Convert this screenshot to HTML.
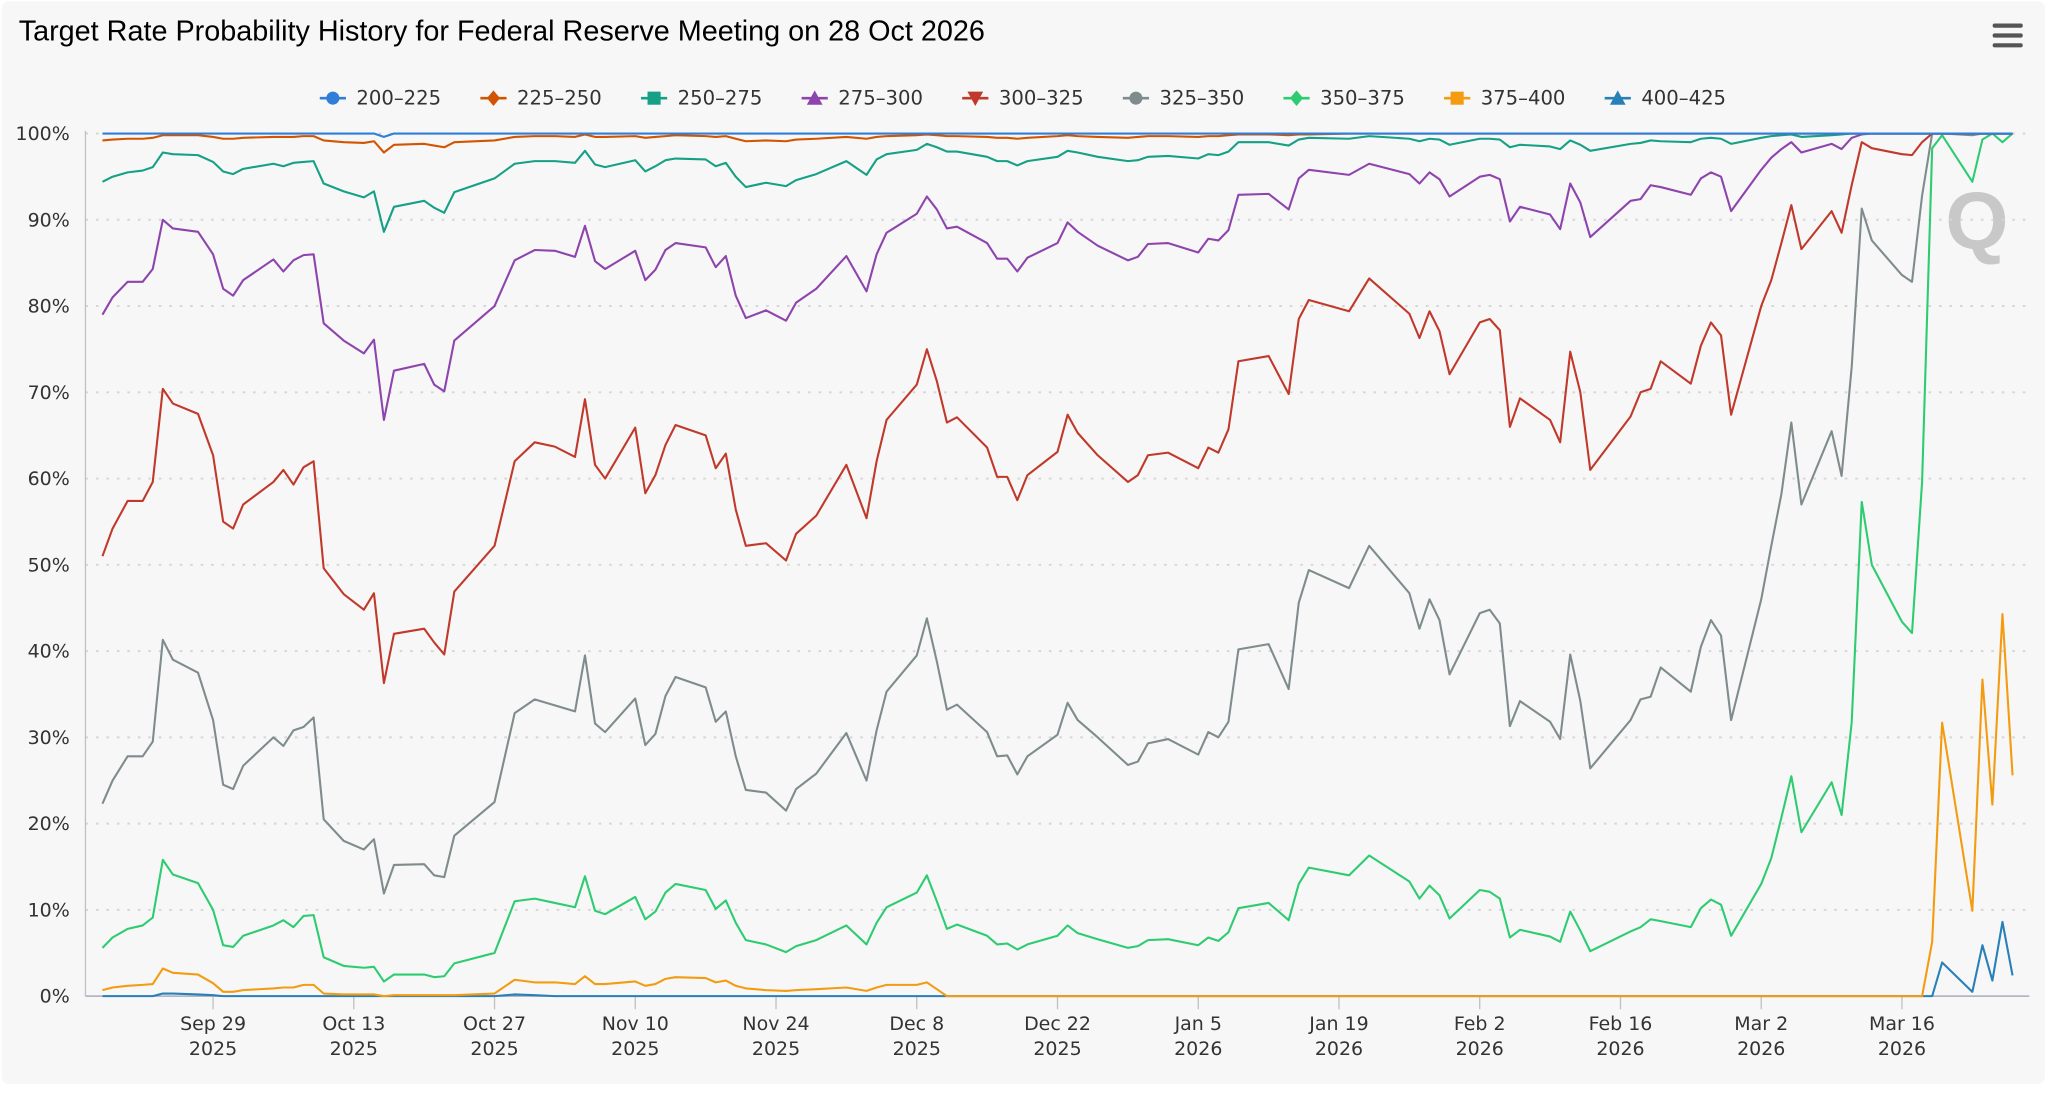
<!DOCTYPE html>
<html><head><meta charset="utf-8"><style>
html,body{margin:0;padding:0;background:#fff;width:2048px;height:1093px;overflow:hidden}
svg{display:block}
text{font-family:"DejaVu Sans","Liberation Sans",sans-serif}
</style></head><body>
<svg id="chart" width="2048" height="1093" viewBox="0 0 1564 835" xmlns="http://www.w3.org/2000/svg">
<rect x="1" y="1" width="1561" height="827" rx="5" fill="#f7f7f7"/>
<text x="14" y="31" font-size="22" fill="#000" style="font-family:'Liberation Sans',sans-serif">Target Rate Probability History for Federal Reserve Meeting on 28 Oct 2026</text>
<g fill="#555">
<rect x="1522" y="18" width="23" height="3.2" rx="1.5"/><rect x="1522" y="25.5" width="23" height="3.2" rx="1.5"/><rect x="1522" y="33" width="23" height="3.2" rx="1.5"/>
</g>
<text x="1510" y="190" font-size="62" font-weight="bold" fill="#c8c8c8" text-anchor="middle" style="font-family:'Liberation Sans',sans-serif">Q</text>
<g id="grid"></g><g id="axes"></g><g id="series"></g><g id="legend"></g>
</svg>
<script>
const NS="http://www.w3.org/2000/svg";
const seriesNames=["200-225","225-250","250-275","275-300","300-325","325-350","350-375","375-400","400-425"];
const seriesColors=["#2f7ed8","#d35400","#16a085","#8e44ad","#c0392b","#7f8c8d","#2ecc71","#f39c12","#2980b9"];
const yTicks=[0,10,20,30,40,50,60,70,80,90,100];
const xTickDays=[11,25,39,53,67,81,95,109,123,137,151,165,179];
const xTickLabels=["Sep 29","Oct 13","Oct 27","Nov 10","Nov 24","Dec 8","Dec 22","Jan 5","Jan 19","Feb 2","Feb 16","Mar 2","Mar 16"];
const xTickYears=["2025","2025","2025","2025","2025","2025","2025","2026","2026","2026","2026","2026","2026"];
// days since 2025-09-18
const days=[0,1,2.5,4,5,6,7,9.5,11,12,13,14,17,18,19,20,21,22,24,26,27,28,29,32,33,34,35,39,41,43,45,47,48,49,50,53,54,55,56,57,60,61,62,63,64,66,68,69,71,74,76,77,78,81,82,83,84,85,88,89,90,91,92,95,96,97,99,102,103,104,106,109,110,111,112,113,116,118,119,120,124,126,130,131,132,133,134,137,138,139,140,141,144,145,146,147,148,152,153,154,155,158,159,160,161,162,165,166,167,168,169,172,173,174,175,176,179,180,181,182,183,186,187,188,189,190];
const s200=[100,100,100,100,100,100,100,100,100,100,100,100,100,100,100,100,100,100,100,100,100,99.6,100,100,100,100,100,100,100,100,100,100,100,100,100,100,100,100,100,100,100,100,100,100,100,100,100,100,100,100,100,100,100,100,100,100,100,100,100,100,100,100,100,100,100,100,100,100,100,100,100,100,100,100,100,100,100,100,100,100,100,100,100,100,100,100,100,100,100,100,100,100,100,100,100,100,100,100,100,100,100,100,100,100,100,100,100,100,100,100,100,100,100,100,100,100,100,100,100,100,100,100,100,100,100,100];
const s225=[99.2,99.3,99.4,99.4,99.5,99.8,99.8,99.8,99.6,99.4,99.4,99.5,99.6,99.6,99.6,99.7,99.7,99.2,99,98.9,99.1,97.8,98.7,98.8,98.6,98.4,99,99.2,99.6,99.7,99.7,99.6,99.9,99.6,99.6,99.7,99.5,99.6,99.7,99.8,99.7,99.6,99.7,99.4,99.1,99.2,99.1,99.3,99.4,99.6,99.4,99.6,99.7,99.8,99.9,99.8,99.7,99.7,99.6,99.5,99.5,99.4,99.5,99.7,99.8,99.7,99.6,99.5,99.6,99.7,99.7,99.6,99.7,99.7,99.8,99.9,99.9,99.8,99.9,99.9,100,100,100,100,100,100,100,100,100,100,100,100,100,100,100,100,100,100,100,100,100,100,100,100,100,100,100,100,100,100,100,100,100,100,100,100,100,100,100,100,100,100,100,100,100,100];
const s250=[94.4,95,95.5,95.7,96.1,97.8,97.6,97.5,96.7,95.6,95.3,95.9,96.5,96.2,96.6,96.7,96.8,94.2,93.3,92.6,93.3,88.6,91.5,92.2,91.4,90.8,93.2,94.8,96.5,96.8,96.8,96.6,98,96.4,96.1,96.9,95.6,96.2,96.9,97.1,97,96.2,96.6,95,93.8,94.3,93.9,94.6,95.3,96.8,95.2,97,97.6,98.1,98.8,98.4,97.9,97.9,97.3,96.8,96.8,96.3,96.8,97.3,98,97.8,97.3,96.8,96.9,97.3,97.4,97.1,97.6,97.5,97.9,99,99,98.6,99.3,99.5,99.4,99.7,99.4,99.1,99.4,99.3,98.7,99.4,99.4,99.3,98.4,98.7,98.5,98.2,99.2,98.7,98,98.8,98.9,99.2,99.1,99,99.4,99.5,99.4,98.8,99.5,99.7,99.8,99.9,99.6,99.8,99.9,100,100,100,100,100,100,100,100,100,100,100,100,100];
const s275=[79,81,82.8,82.8,84.3,90,89,88.6,86,82,81.2,83,85.4,84,85.3,85.9,86,78,76,74.5,76.1,66.8,72.5,73.3,70.9,70.1,76,80,85.3,86.5,86.4,85.7,89.3,85.2,84.3,86.4,83,84.2,86.5,87.3,86.8,84.5,85.8,81.2,78.6,79.5,78.3,80.4,82,85.8,81.7,86,88.5,90.7,92.7,91.2,89,89.2,87.3,85.5,85.5,84,85.6,87.3,89.7,88.6,87,85.3,85.7,87.2,87.3,86.2,87.8,87.6,88.8,92.9,93,91.2,94.8,95.8,95.2,96.5,95.3,94.2,95.5,94.7,92.7,95,95.2,94.7,89.8,91.5,90.6,88.9,94.2,92,88,92.2,92.4,94,93.8,92.9,94.8,95.5,95,91,95.8,97.2,98.2,99,97.8,98.8,98.2,99.5,99.9,100,100,100,100,100,100,100,100,100,100,100];
const s300=[51,54.2,57.4,57.4,59.6,70.4,68.7,67.5,62.7,55,54.2,57,59.6,61,59.3,61.3,62,49.6,46.6,44.8,46.7,36.3,42,42.6,41,39.6,46.9,52.2,62,64.2,63.7,62.5,69.2,61.6,60,65.9,58.3,60.4,63.9,66.2,65,61.2,62.9,56.4,52.2,52.5,50.5,53.6,55.7,61.6,55.4,62,66.8,70.9,75,71.3,66.5,67.1,63.6,60.2,60.2,57.5,60.4,63.1,67.4,65.3,62.7,59.6,60.4,62.7,63,61.2,63.6,63,65.7,73.6,74.2,69.8,78.5,80.7,79.4,83.2,79.1,76.3,79.4,77.1,72.1,78.1,78.5,77.2,66,69.3,66.8,64.2,74.7,70,61,67.2,70,70.4,73.6,71,75.4,78.1,76.6,67.4,80,83,87.3,91.7,86.6,91,88.5,94,99,98.3,97.6,97.5,99,100,100,100,100,100,100,100];
const s325=[22.3,25,27.8,27.8,29.5,41.3,39,37.5,32,24.5,24,26.7,30,29,30.8,31.2,32.3,20.5,18,17,18.2,11.9,15.2,15.3,14,13.8,18.6,22.5,32.8,34.4,33.7,33,39.5,31.6,30.6,34.5,29.1,30.4,34.8,37,35.8,31.8,33,27.8,23.9,23.6,21.5,24,25.8,30.5,25,30.8,35.3,39.5,43.8,38.8,33.2,33.8,30.6,27.8,27.9,25.7,27.8,30.3,34,32,30,26.8,27.2,29.3,29.8,28,30.6,30,31.8,40.2,40.8,35.6,45.6,49.4,47.3,52.2,46.7,42.6,46,43.6,37.3,44.4,44.8,43.2,31.3,34.2,31.8,29.8,39.6,34.2,26.4,32,34.4,34.7,38.1,35.3,40.5,43.6,41.8,32,46,52.2,58.2,66.5,57,65.5,60.3,72.9,91.3,87.6,83.6,82.8,92.8,100,100,99.8,100,100,100,100];
const s350=[5.6,6.8,7.8,8.2,9.1,15.8,14.1,13.1,10,5.9,5.7,7,8.2,8.8,8,9.3,9.4,4.5,3.5,3.3,3.4,1.7,2.5,2.5,2.2,2.3,3.8,5,11,11.3,10.8,10.3,13.9,9.9,9.5,11.5,8.9,9.8,12,13,12.3,10.1,11.1,8.5,6.5,6,5.1,5.8,6.5,8.2,6,8.5,10.3,12,14,11,7.8,8.3,7,6,6.1,5.4,6,7,8.2,7.3,6.6,5.6,5.8,6.5,6.6,5.9,6.8,6.4,7.4,10.2,10.8,8.8,13,14.9,14,16.3,13.3,11.3,12.8,11.7,9,12.3,12.1,11.3,6.8,7.7,6.9,6.3,9.8,7.6,5.2,7.5,8,8.9,8.7,8,10.2,11.2,10.6,7,13,16,20.7,25.5,19,24.8,21,31.7,57.3,50,43.4,42.1,59.6,98.3,99.8,94.4,99.3,100,99,100];
const s375=[0.7,1,1.2,1.3,1.4,3.2,2.7,2.5,1.5,0.5,0.5,0.7,0.9,1,1,1.3,1.3,0.3,0.2,0.2,0.2,0,0.1,0.1,0.1,0.1,0.1,0.3,1.9,1.6,1.6,1.4,2.3,1.4,1.4,1.7,1.2,1.4,2,2.2,2.1,1.6,1.8,1.2,0.9,0.7,0.6,0.7,0.8,1,0.6,1,1.3,1.3,1.6,0.8,0,0,0,0,0,0,0,0,0,0,0,0,0,0,0,0,0,0,0,0,0,0,0,0,0,0,0,0,0,0,0,0,0,0,0,0,0,0,0,0,0,0,0,0,0,0,0,0,0,0,0,0,0,0,0,0,0,0,0,0,0,0,0,6.3,31.7,9.9,36.7,22.2,44.3,25.6];
const s400=[0,0,0,0,0,0.3,0.3,0.2,0.1,0,0,0,0,0,0,0,0,0,0,0,0,0,0,0,0,0,0,0,0.2,0.1,0,0,0,0,0,0,0,0,0,0,0,0,0,0,0,0,0,0,0,0,0,0,0,0,0,0,0,0,0,0,0,0,0,0,0,0,0,0,0,0,0,0,0,0,0,0,0,0,0,0,0,0,0,0,0,0,0,0,0,0,0,0,0,0,0,0,0,0,0,0,0,0,0,0,0,0,0,0,0,0,0,0,0,0,0,0,0,0,0,0,3.9,0.5,5.9,1.8,8.6,2.4];
const seriesValues=[s200,s225,s250,s275,s300,s325,s350,s375,s400];

const X0=65,X1=1550,Y0=761,Y100=102;
function xScale(d){return 78+d*7.68;}
function yScale(v){return Y0-(v/100)*(Y0-Y100);}
function mk(tag,attrs,parent){const e=document.createElementNS(NS,tag);for(const k in attrs)e.setAttribute(k,attrs[k]);parent.appendChild(e);return e;}
const grid=document.getElementById('grid'),axes=document.getElementById('axes'),sg=document.getElementById('series'),lg=document.getElementById('legend');
yTicks.forEach(t=>{
  const y=yScale(t);
  if(t>0){const l=mk('line',{x1:X0,x2:X1,y1:y,y2:y,stroke:'#d6d6d6','stroke-width':1.5,'stroke-dasharray':'2,6'},grid);
  
  }
  const tx=mk('text',{x:53,y:y+5,'font-size':14.5,'text-anchor':'end',fill:'#333'},axes);
  tx.textContent=t+'%';
  
  
});
const ya=mk('line',{x1:X0,x2:X0,y1:Y100-2,y2:Y0,stroke:'#c0c0c0','stroke-width':1},axes);


const xa=mk('line',{x1:X0,x2:X1,y1:Y0,y2:Y0,stroke:'#aab','stroke-width':1.2},axes);


xTickDays.forEach((d,i)=>{
  const x=xScale(d);
  const tk=mk('line',{x1:x,x2:x,y1:Y0,y2:Y0+10,stroke:'#c0c0c0'},axes);
  
  
  const t1=mk('text',{x:x,y:787,'font-size':14.5,'text-anchor':'middle',fill:'#333'},axes);
  t1.textContent=xTickLabels[i];
  
  
  const t2=mk('text',{x:x,y:806,'font-size':14.5,'text-anchor':'middle',fill:'#333'},axes);
  t2.textContent=xTickYears[i];
  
  
});
const drawOrder=[8,7,6,5,4,3,2,1,0];
drawOrder.forEach(si=>{
  const vals=seriesValues[si];let dstr='';
  const n=Math.min(days.length,vals.length);
  for(let i=0;i<n;i++){dstr+=(i?'L':'M')+xScale(days[i]).toFixed(1)+','+yScale(vals[i]).toFixed(1);}
  const p=mk('path',{d:dstr,fill:'none',stroke:seriesColors[si],'stroke-width':1.6,'stroke-linejoin':'round'},sg);
  
  
});
seriesNames.forEach((nm,i)=>{
  const cx=254+i*122.7,cy=75;
  const g=mk('g',{},lg);
  
  
  mk('line',{x1:cx-10,x2:cx+10,y1:cy,y2:cy,stroke:seriesColors[i],'stroke-width':2},g);
  const c=seriesColors[i];
  if(i===0||i===5)mk('circle',{cx:cx,cy:cy,r:5,fill:c},g);
  else if(i===1||i===6)mk('path',{d:`M${cx},${cy-6}L${cx+5},${cy}L${cx},${cy+6}L${cx-5},${cy}Z`,fill:c},g);
  else if(i===2||i===7)mk('rect',{x:cx-5,y:cy-5,width:10,height:10,fill:c},g);
  else if(i===3||i===8)mk('path',{d:`M${cx},${cy-6}L${cx+6},${cy+5}L${cx-6},${cy+5}Z`,fill:c},g);
  else mk('path',{d:`M${cx},${cy+6}L${cx+6},${cy-5}L${cx-6},${cy-5}Z`,fill:c},g);
  const t=mk('text',{x:cx+18,y:cy+5,'font-size':15,fill:'#333'},g);
  t.textContent=nm.replace('-','\u2013');
});
</script>
</body></html>
